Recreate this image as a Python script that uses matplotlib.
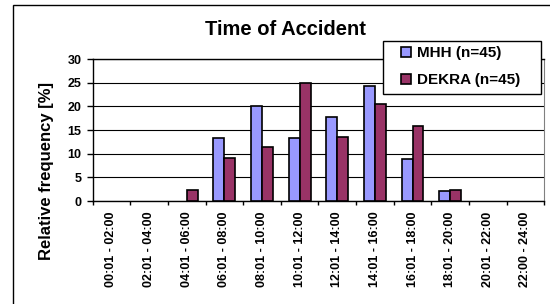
import matplotlib.pyplot as plt
import numpy as np
from matplotlib.patches import Rectangle
from matplotlib.lines import Line2D

plt.rcParams['font.family'] = ['Liberation Sans', 'DejaVu Sans']
plt.rcParams['font.weight'] = 'bold'

# Data
slots = ['00:01 - 02:00', '02:01 - 04:00', '04:01 - 06:00', '06:01 - 08:00',
         '08:01 - 10:00', '10:01 - 12:00', '12:01 - 14:00', '14:01 - 16:00',
         '16:01 - 18:00', '18:01 - 20:00', '20:01 - 22:00', '22:00 - 24:00']
mhh = [0, 0, 0, 13.3, 20.0, 13.3, 17.8, 24.4, 8.9, 2.2, 0, 0]
dekra = [0, 0, 2.3, 9.1, 11.4, 25.0, 13.6, 20.5, 15.9, 2.3, 0, 0]
series_names = ['MHH (n=45)', 'DEKRA (n=45)']
colors = ['#9999FF', '#993366']

fig = plt.figure(figsize=(5.5, 3.04), dpi=100)
ax = fig.add_axes([0.1685, 0.3388, 0.8211, 0.4671])

x = np.arange(len(slots))
w = 0.29
# empty categories get no outline in the original
ax.bar(x - w / 2, mhh, w, color=colors[0], edgecolor='black',
       linewidth=[1.2 if v else 0 for v in mhh], zorder=3)
ax.bar(x + w / 2, dekra, w, color=colors[1], edgecolor='black',
       linewidth=[1.2 if v else 0 for v in dekra], zorder=3)

ax.set_xlim(-0.5, len(slots) - 0.5)
ax.set_ylim(0, 30)
ax.set_yticks(range(0, 31, 5))
ax.yaxis.grid(True, color='black', linewidth=0.8, zorder=0)

# category labels in the middle, tick marks between categories
ax.set_xticks(x)
ax.set_xticklabels(slots, rotation=90, fontsize=9, fontweight='bold')
ax.set_xticks(np.arange(-0.5, len(slots)), minor=True)
ax.tick_params(axis='x', which='major', length=0, pad=7.5)
ax.tick_params(axis='x', which='minor', length=3, width=1, direction='out')
ax.tick_params(axis='y', length=4, width=1, pad=4, labelsize=9)
for t in ax.get_yticklabels():
    t.set_fontweight('bold')

ax.spines['left'].set_linewidth(1)
ax.spines['bottom'].set_linewidth(1)
ax.spines['top'].set_linewidth(1)
ax.spines['right'].set_color('#808080')

ax.set_ylabel('Relative frequency [%]', fontsize=12, fontweight='bold')
ax.yaxis.label.set_va('center')
ax.yaxis.set_label_coords(46.7 / 550, 1 - 171 / 304, transform=fig.transFigure)

fig.text(285 / 550, 1 - 29.7 / 304, 'Time of Accident', fontsize=14.5,
         fontweight='bold', ha='center', va='center')

# legend box drawn separately so the padding matches the original
fig.patches.append(Rectangle((383 / 550, 1 - 94.3 / 304), 158 / 550, 53.6 / 304,
                             transform=fig.transFigure, facecolor='white',
                             edgecolor='black', linewidth=1, zorder=4))
handles = [Line2D([], [], linestyle='none', marker='s', markersize=6.5,
                  markerfacecolor=c, markeredgecolor='black',
                  markeredgewidth=1.2) for c in colors]
fig.legend(handles, series_names, loc='upper left',
           bbox_to_anchor=(398.7 / 550, 1 - 46 / 304),
           bbox_transform=fig.transFigure, frameon=False, borderpad=0,
           borderaxespad=0, handlelength=1.0, handletextpad=0.2,
           labelspacing=0.86, prop={'size': 11, 'weight': 'bold'})

# outer chart border (left and top visible)
fig.patches.append(Rectangle((13 / 550, -0.2), 1.0, 1 - 4.7 / 304 + 0.2,
                             transform=fig.transFigure, fill=False,
                             edgecolor='black', linewidth=1))

fig.savefig('out.png', dpi=100)
